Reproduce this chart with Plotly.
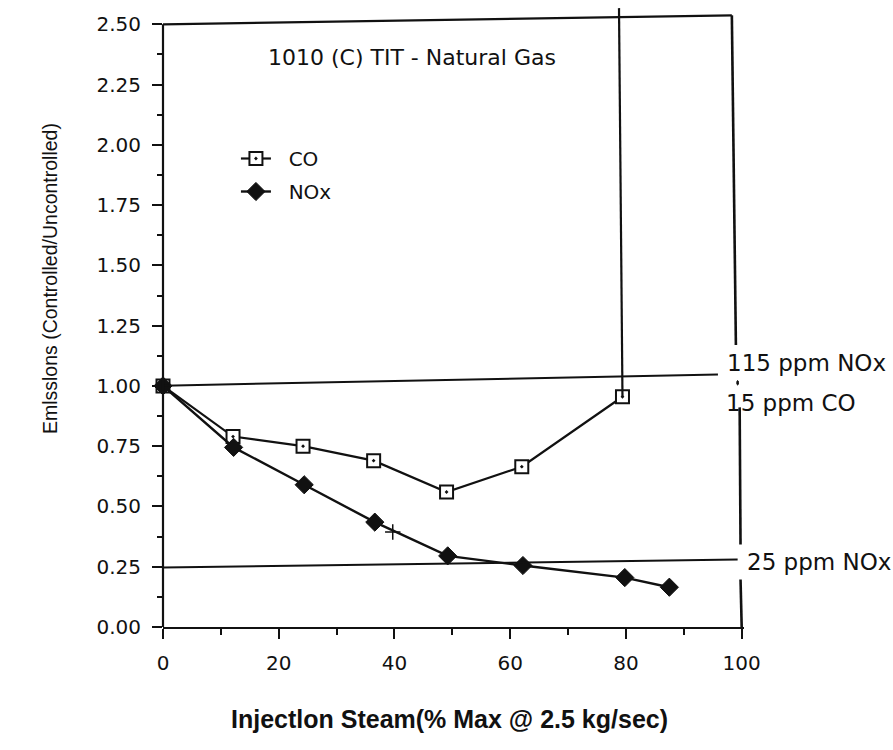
import plotly.graph_objects as go

# ---- data ----
co_x = [0, 12.1, 24.2, 36.4, 49.0, 62.0, 79.4]
co_y = [1.00, 0.79, 0.75, 0.69, 0.56, 0.665, 0.955]

nox_x = [0, 12.2, 24.4, 36.6, 49.2, 62.2, 79.8, 87.5]
nox_y = [1.00, 0.745, 0.59, 0.435, 0.295, 0.255, 0.205, 0.165]

cross_x = [39.7]
cross_y = [0.394]

x_ticks = [0, 20, 40, 60, 80, 100]
x_minor = [10, 30, 50, 70, 90]
y_ticks = [0, 0.25, 0.5, 0.75, 1.0, 1.25, 1.5, 1.75, 2.0, 2.25, 2.5]
y_minor = [0.125, 0.375, 0.625, 0.875, 1.125, 1.375, 1.625, 1.875, 2.125, 2.375]

# limit lines (start, end) as drawn in the scan
nox115_line = [(0, 1.001), (95.9, 1.047)]
nox25_line = [(0, 0.247), (99.3, 0.280)]

title_text = "1010 (C) TIT - Natural Gas"
x_title = "Injectlon Steam(% Max @ 2.5 kg/sec)"
y_title = "Emlsslons (Controlled/Uncontrolled)"

INK = "#111111"
TICKFONT = dict(family="DejaVu Sans", size=20, color=INK)
NB = "\u00a0"

fig = go.Figure()

fig.add_trace(go.Scatter(
    x=co_x, y=co_y, name=NB * 2 + "CO", mode="lines+markers",
    line=dict(color=INK, width=2.2),
    marker=dict(symbol="square-dot", size=13, color="white",
                line=dict(color=INK, width=2)),
    cliponaxis=False, legendgroup="a"))

fig.add_trace(go.Scatter(
    x=nox_x, y=nox_y, name=NB * 2 + "NOx", mode="lines+markers",
    line=dict(color=INK, width=2.4),
    marker=dict(symbol="diamond", size=14, color=INK,
                line=dict(color=INK, width=1)),
    cliponaxis=False, legendgroup="b"))

fig.add_trace(go.Scatter(
    x=cross_x, y=cross_y, mode="markers", showlegend=False,
    marker=dict(symbol="cross-thin", size=11,
                line=dict(color=INK, width=1.5)),
    hoverinfo="skip"))

shapes = []
line_style = dict(color=INK, width=2.2)
# limit lines
for (a, b) in (nox115_line, nox25_line):
    shapes.append(dict(type="line", xref="x", yref="y",
                       x0=a[0], y0=a[1], x1=b[0], y1=b[1],
                       line=dict(color=INK, width=2)))
# vertical line at 80 % down to last CO point
shapes.append(dict(type="line", xref="x", yref="y",
                   x0=78.8, y0=2.567, x1=co_x[-1], y1=co_y[-1],
                   line=line_style))
# y axis line (stops at 2.50)
shapes.append(dict(type="line", xref="paper", yref="y",
                   x0=0, y0=0, x1=0, y1=2.5, line=line_style))
# top border
shapes.append(dict(type="line", xref="x", yref="y",
                   x0=0, y0=2.5, x1=98.3, y1=2.537, line=line_style))
# right border, broken around the labels
for (xa, ya, xb, yb) in [(98.3, 2.537, 99.0, 1.170),
                         (99.65, 0.911, 99.8, 0.342),
                         (99.8, 0.197, 100.0, 0.0)]:
    shapes.append(dict(type="line", xref="x", yref="y",
                       x0=xa, y0=ya, x1=xb, y1=yb,
                       line=dict(color=INK, width=2.6)))
shapes.append(dict(type="circle", xref="x", yref="y",
                   x0=99.15, x1=99.45, y0=1.004, y1=1.022,
                   fillcolor=INK, line=dict(color=INK, width=1)))

W, H = 893, 750
ML, MR, MT, MB = 163, 148.5, 5, 123
pw, ph = W - ML - MR, H - MT - MB
XMAX = 100.4

annotations = [
    dict(x=43.0, y=2.363, xref="x", yref="y", text=title_text,
         showarrow=False, font=dict(family="DejaVu Sans", size=22, color=INK)),
    dict(x=97.2, y=1.093, xref="x", yref="y", text="115 ppm NOx",
         showarrow=False, xanchor="left",
         font=dict(family="DejaVu Sans", size=23, color=INK)),
    dict(x=96.9, y=0.93, xref="x", yref="y", text="15 ppm CO",
         showarrow=False, xanchor="left",
         font=dict(family="DejaVu Sans", size=23, color=INK)),
    dict(x=100.6 / XMAX, y=0.27, xref="paper", yref="y", text="25 ppm NOx",
         showarrow=False, xanchor="left",
         font=dict(family="DejaVu Sans", size=23, color=INK)),
    dict(x=(450 - ML) / pw, y=(H - MB - 735) / ph,
         xref="paper", yref="paper", text=x_title, showarrow=False,
         font=dict(family="Liberation Sans", size=25, color=INK, weight="bold")),
    dict(x=(37 - ML) / pw, y=(H - MB - 279) / ph,
         xref="paper", yref="paper", text=y_title, showarrow=False,
         textangle=-90,
         font=dict(family="Liberation Sans", size=19.5, color=INK)),
]

fig.update_layout(
    width=W, height=H,
    margin=dict(l=ML, r=MR, t=MT, b=MB),
    paper_bgcolor="white", plot_bgcolor="white",
    showlegend=True,
    legend=dict(x=(236 - ML) / pw, y=(H - MB - 139) / ph,
                xanchor="left", yanchor="top",
                bgcolor="rgba(0,0,0,0)", borderwidth=0,
                font=dict(family="DejaVu Sans", size=20, color=INK),
                traceorder="grouped", tracegroupgap=4, itemwidth=30),
    shapes=shapes,
    annotations=annotations,
    xaxis=dict(range=[0, XMAX], showgrid=False, zeroline=False,
               showline=True, linecolor=INK, linewidth=2.2,
               tickvals=x_ticks, ticktext=[str(v) for v in x_ticks],
               ticks="outside", ticklen=10, tickwidth=2, tickcolor=INK,
               ticklabelstandoff=7, tickfont=TICKFONT,
               minor=dict(tickvals=x_minor, ticks="outside", ticklen=6,
                          tickwidth=2, tickcolor=INK)),
    yaxis=dict(range=[0, 2.58], showgrid=False, zeroline=False,
               showline=False,
               tickvals=y_ticks, ticktext=[f"{v:.2f}" for v in y_ticks],
               ticks="outside", ticklen=10, tickwidth=2, tickcolor=INK,
               ticklabelstandoff=7, tickfont=TICKFONT,
               minor=dict(tickvals=y_minor, ticks="outside", ticklen=5,
                          tickwidth=2, tickcolor=INK)),
)

fig.write_html("out.html")
